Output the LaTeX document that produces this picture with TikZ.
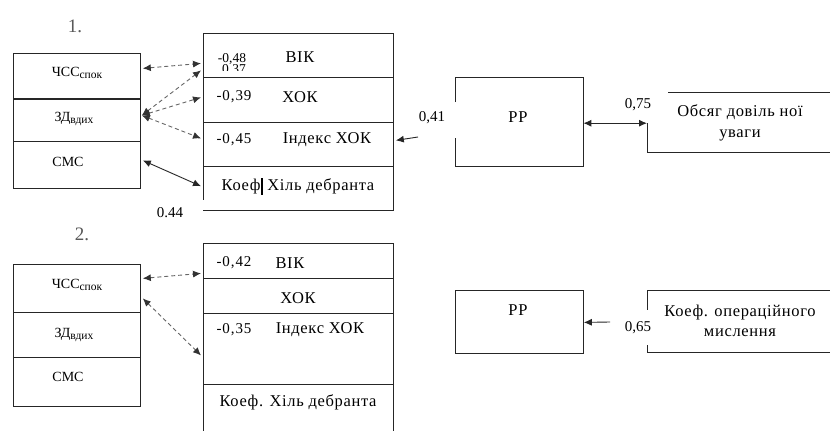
\documentclass[tikz,border=0pt]{standalone}
\usepackage{fontspec}
\setmainfont{Liberation Serif}
\usetikzlibrary{arrows.meta,calc}
\begin{document}
\begin{tikzpicture}[x=1pt,y=-1pt,
  cellbox/.style={draw=black!85, line width=0.8pt, inner sep=0pt, anchor=north west},
  ghost/.style={inner sep=0pt, anchor=north west},
  ltxt/.style={inner sep=0pt, font=\rmfamily\fontsize{14}{16}\selectfont},
  rtxt/.style={inner sep=0pt, font=\rmfamily\fontsize{16.5}{19}\selectfont\addfontfeatures{LetterSpace=4}},
  ntxt/.style={inner sep=0pt, font=\rmfamily\fontsize{15}{17}\selectfont\addfontfeatures{LetterSpace=6}},
  ctxt/.style={inner sep=0pt, font=\rmfamily\fontsize{15}{17}\selectfont},
  numtitle/.style={inner sep=0pt, text=black!65, font=\rmfamily\fontsize{19}{21}\selectfont},
  dasharrow/.style={draw=black!60, line width=0.9pt, dash pattern=on 4pt off 3pt, {Latex[length=8pt,width=7pt,color=black!80]}-{Latex[length=8pt,width=7pt,color=black!80]}},
  solidarrow/.style={draw=black!85, line width=0.9pt, {Latex[length=8pt,width=7pt]}-{Latex[length=8pt,width=7pt]}},
  onearrow/.style={draw=black!85, line width=0.9pt, -{Latex[length=8pt,width=7pt]}},
  edge/.style={draw=black!85, line width=0.8pt}]
\useasboundingbox (0,0) rectangle (830,431);
\fill[white] (0,0) rectangle (830,431);
\newcommand{\sbk}[1]{\raisebox{-2.5pt}{\fontsize{11.5}{11.5}\selectfont #1}}

% ---------- diagram 1 ----------
\node[numtitle] (n1) at (75,26) {1.};
% left box
\node[cellbox, minimum width=127pt, minimum height=45pt] (l1a) at (13,53) {};
\node[cellbox, minimum width=127pt, minimum height=43pt] (l1b) at (13,98) {};
\node[cellbox, minimum width=127pt, minimum height=47pt] (l1c) at (13,141) {};
\draw[edge, line width=1.8pt] (l1a.south west) -- (l1a.south east);
\node[ltxt] (t1a) at (77,73) {ЧСС\sbk{спок}};
\node[ltxt] (t1b) at (74,119) {ЗД\sbk{вдих}};
\node[ltxt] (t1c) at (68,162) {СМС};
% right box
\node[cellbox, minimum width=190pt, minimum height=44pt] (r1a) at (203,33) {};
\node[cellbox, minimum width=190pt, minimum height=45pt] (r1b) at (203,77) {};
\node[cellbox, minimum width=190pt, minimum height=44pt] (r1c) at (203,122) {};
\node[ghost, minimum width=190pt, minimum height=44pt] (r1d) at (203,166) {};
\draw[edge] (r1d.north west) -- ++(0,34);
\draw[edge] (r1d.south west) -- (r1d.south east) -- (r1d.north east);
\node[ntxt, font=\rmfamily\fontsize{13.5}{15}\selectfont] (v48) at (232,59) {-0,48};
\begin{scope}
  \clip (210,64.5) rectangle (260,70.5);
  \node[ntxt, font=\rmfamily\fontsize{13.5}{15}\selectfont] (v37) at (234,70.5) {0,37};
\end{scope}
\node[rtxt] (t1d) at (300,57) {ВІК};
\node[ntxt] (v39) at (234,97) {-0,39};
\node[rtxt] (t1e) at (300,97) {ХОК};
\node[ntxt] (v45) at (234,140) {-0,45};
\node[rtxt] (t1f) at (327,140) {Індекс ХОК};
\node[rtxt] (t1g) at (298,186) {Коеф\rule[-4pt]{2pt}{17pt} Хіль дебранта};
\node[ctxt] (v44) at (170,213) {0.44};
% arrows left-right
\draw[dasharrow] ([xshift=2pt,yshift=7.5pt]l1a.east) -- ([xshift=-2pt,yshift=-8pt]r1a.west);
\draw[dasharrow] ([xshift=1pt,yshift=4.5pt]l1b.east) -- ([xshift=-2pt,yshift=-15pt]r1a.west);
\draw[dasharrow] ([xshift=1pt,yshift=4.5pt]l1b.east) -- ([xshift=-2pt,yshift=2.5pt]r1b.west);
\draw[dasharrow] ([xshift=1pt,yshift=4.5pt]l1b.east) -- ([xshift=-2pt,yshift=6pt]r1c.west);
\draw[solidarrow] ([xshift=2pt,yshift=4.5pt]l1c.east) -- ([xshift=-2pt,yshift=2pt]r1d.west);
% PP 1
\node[ghost, minimum width=128pt, minimum height=89pt] (pp1) at (455,77) {};
\draw[edge] (pp1.north west) ++(0,25) -- (pp1.north west) -- (pp1.north east) -- (pp1.south east) -- (pp1.south west) -- ++(0,-28);
\node[rtxt] (tpp1) at (518,117) {РР};
\coordinate (a41) at (418,137);
\draw[onearrow] (a41) -- ([xshift=2pt,yshift=4pt]r1c.east);
\node[ctxt] (v41) at (432,118) {0,41};
% Obsyag box
\node[ghost, minimum width=183pt, minimum height=60pt] (ob) at (647,92) {};
\draw[edge] ([xshift=21pt]ob.north west) -- (ob.north east);
\draw[edge] ([yshift=-1pt]ob.west) -- (ob.south west) -- (ob.south east);
\node[rtxt, align=center] (tob) at (740,122.5) {Обсяг довіль ної\\[2pt]уваги};
\draw[solidarrow] ([yshift=-1.5pt]pp1.east) -- ([yshift=-1pt]ob.west);
\node[ctxt] (v75) at (638,105) {0,75};

% ---------- diagram 2 ----------
\node[numtitle] (n2) at (82,234) {2.};
\node[cellbox, minimum width=127pt, minimum height=48pt] (l2a) at (13,264) {};
\node[cellbox, minimum width=127pt, minimum height=45pt] (l2b) at (13,312) {};
\node[cellbox, minimum width=127pt, minimum height=49pt] (l2c) at (13,357) {};
\node[ltxt] (t2a) at (77,285) {ЧСС\sbk{спок}};
\node[ltxt] (t2b) at (74,335) {ЗД\sbk{вдих}};
\node[ltxt] (t2c) at (68,377) {СМС};
\node[cellbox, minimum width=190pt, minimum height=35pt] (r2a) at (203,243) {};
\node[cellbox, minimum width=190pt, minimum height=35pt] (r2b) at (203,278) {};
\node[cellbox, minimum width=190pt, minimum height=71pt] (r2c) at (203,313) {};
\node[ghost, minimum width=190pt, minimum height=48pt] (r2d) at (203,384) {};
\draw[edge] (r2d.south west) -- (r2d.north west);
\draw[edge] (r2d.south east) -- (r2d.north east);
\node[ntxt] (v42) at (234,263) {-0,42};
\node[rtxt] (t2d) at (290,263) {ВІК};
\node[rtxt] (t2e) at (298,298) {ХОК};
\node[ntxt] (v35) at (234,330) {-0,35};
\node[rtxt] (t2f) at (320,330) {Індекс ХОК};
\node[rtxt] (t2g) at (298,402) {Коеф. Хіль дебранта};
\draw[dasharrow] ([xshift=2pt,yshift=10pt]l2a.east) -- ([xshift=-2pt,yshift=-12.5pt]r2a.west);
\draw[dasharrow] ([xshift=2pt,yshift=-10pt]l2a.east) -- ([xshift=-2pt,yshift=-6.5pt]r2c.west);
% PP 2
\node[cellbox, minimum width=128pt, minimum height=63pt] (pp2) at (455,290) {};
\node[rtxt] (tpp2) at (518,310) {РР};
% Koef box
\node[ghost, minimum width=183pt, minimum height=62pt] (kop) at (647,290) {};
\draw[edge] (kop.north east) -- (kop.north west) -- ++(0,20);
\draw[edge] (kop.south east) -- (kop.south west) -- ++(0,-7);
\node[rtxt, align=center] (tkop) at (740,321) {Коеф. операційного\\[1pt]мислення};
\coordinate (a65) at (610,322);
\draw[onearrow] (a65) -- ([yshift=-0.5pt]pp2.east);
\node[ctxt] (v65) at (638,328) {0,65};
\end{tikzpicture}
\end{document}
